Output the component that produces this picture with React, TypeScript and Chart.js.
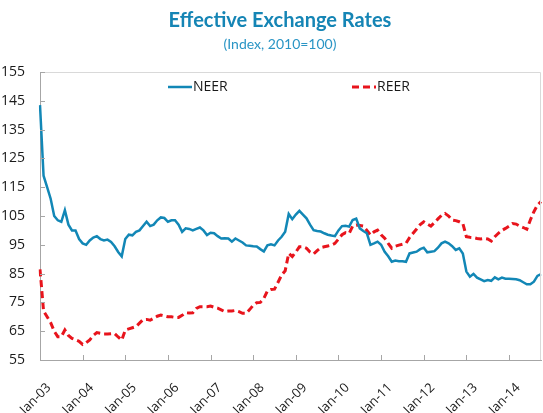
import { useEffect, useRef } from 'react';
import { Chart, registerables } from 'chart.js';

Chart.register(...registerables);

const TITLE = 'Effective Exchange Rates';
const SUBTITLE = '(Index, 2010=100)';

const monthNames = ['Jan', 'Feb', 'Mar', 'Apr', 'May', 'Jun', 'Jul', 'Aug', 'Sep', 'Oct', 'Nov', 'Dec'];
const yearSuffixes = ['03', '04', '05', '06', '07', '08', '09', '10', '11', '12', '13', '14'];

const neer = [
  143.5, 119, 115, 111, 105, 103.5, 103, 107, 102, 100, 100, 97,
  95.5, 95, 96.5, 97.5, 98, 97, 96.5, 96.8, 96, 94.5, 92.5, 91,
  97, 98.5, 98.3, 99.5, 100, 101.5, 103, 101.5, 102, 103.5, 104.5, 104.3,
  103, 103.5, 103.5, 102, 99.5, 100.7, 100.5, 100, 100.5, 101, 100, 98.4,
  99.2, 99, 98, 97.2, 97.3, 97.2, 96.1, 97.2, 96.5, 95.8, 94.8, 94.7,
  94.5, 94.4, 93.5, 92.7, 94.8, 95.2, 94.8, 96.5, 97.8, 99.5, 105.7, 103.9,
  105.5, 106.8, 105.5, 104.2, 102, 100.1, 99.8, 99.6, 99, 98.5, 98.2, 98,
  100, 101.5, 101.6, 101.3, 103.6, 104.1, 100.7, 99.8, 99, 95, 95.5, 96.1,
  95, 92.6, 91, 89.1, 89.5, 89.3, 89.3, 89.1, 92, 92.3, 92.6, 93.5,
  94, 92.4, 92.6, 92.8, 94, 95.5, 96.1, 95.5, 94.5, 93.2, 93.8, 92,
  85.7, 83.9, 84.9, 83.6, 83, 82.4, 82.8, 82.5, 83.7, 83, 83.6, 83.2,
  83.2, 83.1, 83, 82.7, 82, 81.3, 81.3, 82.2, 84.2, 84.8,
];

const reer = [
  86.5, 72, 70, 68, 65, 63.1, 63.1, 65.4, 63.5, 62.5, 62, 61.5,
  60.4, 61, 62, 63.5, 64.5, 64.3, 64, 64, 64.1, 64.2, 63, 61.9,
  65.4, 65.8, 66.2, 66.6, 67.8, 69, 69.1, 68.8, 69.5, 70.2, 70.6, 70.3,
  70, 70, 69.8, 69.8, 70.5, 71.4, 71.3, 71.4, 72.9, 73.5, 73.5, 73.5,
  73.7, 73.3, 73, 72.4, 71.8, 72, 72, 72.2, 71.8, 71.2, 71.2, 72.5,
  74, 74.9, 75, 76.4, 79, 79.5, 79.6, 82, 84.5, 86, 92, 90.9,
  92.5, 94.3, 94.3, 93.8, 92.5, 91.8, 93, 94, 94.3, 94.6, 94.9, 95.5,
  97, 98.5, 99.2, 98.9, 101.5, 101.9, 101.7, 101.5, 100, 98.4, 99.5, 100.1,
  98.5, 97.3, 95.5, 93.8, 94.5, 94.9, 95.2, 95.5, 97.5, 99, 100.5, 102,
  103, 102.2, 101.5, 102.7, 104, 105.2, 105.9, 105, 103.6, 103.4, 103, 102.4,
  97.8, 97.6, 97.5, 97.2, 97, 97.2, 97, 96.3, 97.8, 99, 100, 100.7,
  101.5, 102.4, 102.2, 101.5, 101, 100.4, 103.6, 106.5, 108.8, 110,
];

const yMin = 55;
const yMax = 155;
const yStep = 10;

const labels = neer.map((_, i) => `${monthNames[i % 12]}-${yearSuffixes[Math.floor(i / 12)]}`);

const NEER_COLOR = '#1287b6';
const REER_COLOR = '#e8141c';
const TITLE_FONT = 'Lato, "Open Sans", sans-serif';
const FONT = '"Open Sans", Lato, sans-serif';

const framePlugin = {
  id: 'frame',
  afterDatasetsDraw(chart: any) {
    const { ctx, chartArea } = chart;
    const { left, right, top, bottom } = chartArea;
    ctx.save();
    // titles
    ctx.textAlign = 'center';
    ctx.textBaseline = 'alphabetic';
    ctx.fillStyle = '#1585b5';
    ctx.font = `bold 20px ${TITLE_FONT}`;
    ctx.fillText(TITLE, 280, 27);
    ctx.fillStyle = '#2a95c5';
    ctx.font = `14px ${TITLE_FONT}`;
    ctx.fillText(SUBTITLE, 280, 49);
    // light frame top & right
    ctx.strokeStyle = '#d9d9d9';
    ctx.lineWidth = 1;
    ctx.beginPath();
    ctx.moveTo(left, top + 0.5);
    ctx.lineTo(right - 0.5, top + 0.5);
    ctx.lineTo(right - 0.5, bottom);
    ctx.stroke();
    // inward tick marks
    ctx.strokeStyle = '#a6a6a6';
    ctx.beginPath();
    const ys = chart.scales.y;
    ys.ticks.forEach((t: any) => {
      const py = Math.round(ys.getPixelForValue(t.value)) + 0.5;
      ctx.moveTo(left, py);
      ctx.lineTo(left + 5, py);
    });
    const xs = chart.scales.x;
    labels.forEach((_, i) => {
      if (i % 12 === 0) {
        const px = Math.round(xs.getPixelForValue(i)) + 0.5;
        ctx.moveTo(px, bottom);
        ctx.lineTo(px, bottom - 5);
      }
    });
    ctx.stroke();
    // legend
    const ly = top + 15;
    const items = [
      { label: 'NEER', color: NEER_COLOR, dash: [] as number[], width: 2.5, x: left + 128 },
      { label: 'REER', color: REER_COLOR, dash: [7, 4], width: 3, x: left + 312 },
    ];
    items.forEach((it) => {
      ctx.strokeStyle = it.color;
      ctx.lineWidth = it.width;
      ctx.setLineDash(it.dash);
      ctx.beginPath();
      ctx.moveTo(it.x, ly);
      ctx.lineTo(it.x + 24, ly);
      ctx.stroke();
      ctx.setLineDash([]);
      ctx.fillStyle = '#1a1a1a';
      ctx.font = `14px ${FONT}`;
      ctx.textBaseline = 'middle';
      ctx.textAlign = 'left';
      ctx.fillText(it.label, it.x + 25, ly);
    });
    ctx.restore();
  },
};

export default function App() {
  const ref = useRef<HTMLCanvasElement>(null);

  useEffect(() => {
    if (!ref.current) return;
    const chart = new Chart(ref.current, {
      type: 'line',
      data: {
        labels,
        datasets: [
          {
            label: 'NEER',
            data: neer,
            borderColor: NEER_COLOR,
            backgroundColor: NEER_COLOR,
            borderWidth: 2.5,
            pointRadius: 0,
            tension: 0,
            fill: false,
          },
          {
            label: 'REER',
            data: reer,
            borderColor: REER_COLOR,
            backgroundColor: REER_COLOR,
            borderWidth: 3,
            borderDash: [7, 4],
            pointRadius: 0,
            tension: 0,
            fill: false,
          },
        ],
      },
      options: {
        responsive: false,
        animation: false,
        layout: { padding: { left: 0, right: 2, top: 72, bottom: 0 } },
        plugins: {
          legend: { display: false },
          tooltip: { enabled: false },
          title: { display: false },
          subtitle: { display: false },
        },
        scales: {
          x: {
            type: 'category',
            offset: false,
            grid: { display: false, drawTicks: false },
            border: { display: true, color: '#a6a6a6', width: 1 },
            ticks: {
              autoSkip: false,
              maxRotation: 45,
              minRotation: 45,
              padding: 20,
              labelOffset: 9,
              color: '#1a1a1a',
              font: { family: FONT, size: 13 },
              callback: (_v: any, i: number) => (i % 12 === 0 ? labels[i] : null),
            },
            afterFit: (s: any) => {
              s.height = 53;
              s.paddingLeft = 0;
              s.paddingRight = 0;
            },
          },
          y: {
            min: yMin,
            max: yMax,
            grid: { display: false, drawTicks: false },
            border: { display: true, color: '#a6a6a6', width: 1 },
            ticks: {
              stepSize: yStep,
              padding: 15,
              color: '#1a1a1a',
              font: { family: FONT, size: 14 },
            },
            afterFit: (s: any) => {
              s.width = 40;
              s.paddingTop = 0;
              s.paddingBottom = 0;
            },
          },
        },
      },
      plugins: [framePlugin],
    });
    return () => chart.destroy();
  }, []);

  return (
    <canvas
      ref={ref}
      width={543}
      height={413}
      style={{ position: 'absolute', left: 0, top: 0, display: 'block' }}
    />
  );
}
